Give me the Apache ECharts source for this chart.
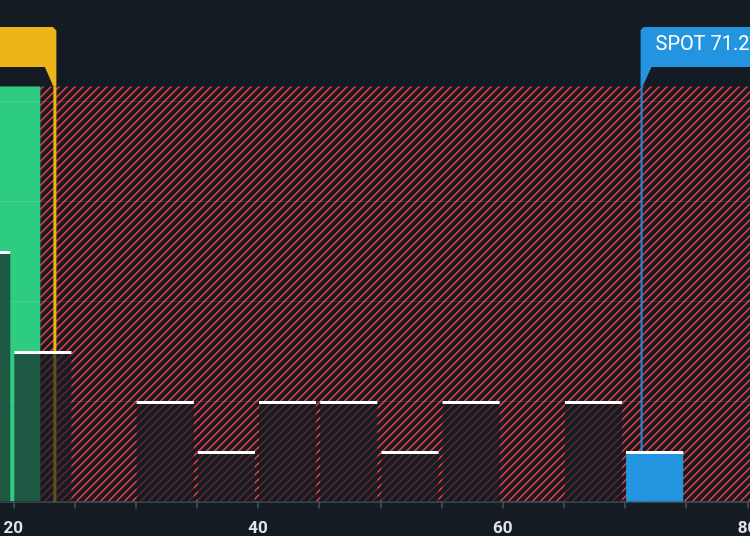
<!DOCTYPE html>
<html>
<head>
<meta charset="utf-8">
<script src="https://cdn.jsdelivr.net/npm/echarts@6/dist/echarts.min.js"></script>
<style>
  html, body { margin: 0; padding: 0; background: #151b23; }
  #chart { width: 750px; height: 536px; }
</style>
</head>
<body>
<div id="chart"></div>
<script>
// ---- data ----
const binStarts = [15, 20, 25, 30, 35, 40, 45, 50, 55, 60, 65, 70, 75];
const binEnds   = [20, 25, 30, 35, 40, 45, 50, 55, 60, 65, 70, 75, 80];
const binCounts = [5, 3, 0, 2, 1, 2, 2, 1, 2, 0, 2, 1, 0];
const fairValue = 23.4;
const spotPrice = 71.35;
const spotLabel = 'SPOT 71.2';
const zoneStarts = [10, fairValue * 0.95];
const zoneEnds   = [fairValue * 0.95, 90];
const xTickLabels = [20, 40, 60, 80];
const yMax = 8.3;

// ---- styles ----
const BG = '#151b23';
const GREEN = '#2ecc80';
const YELLOW = '#eeb518';
const BLUE = '#2394e0';

const P = 8;
const tile = document.createElement('canvas');
tile.width = P; tile.height = P;
(function () {
  const c = tile.getContext('2d');
  c.fillStyle = BG; c.fillRect(0, 0, P, P);
  for (let y = 0; y < P; y++) {
    for (let x = 0; x < P; x++) {
      const m = (x + y) % P;
      if (m === 0 || m === 1) { c.fillStyle = '#d4383e'; c.fillRect(x, y, 1, 1); }
      else if (m === 2) { c.fillStyle = '#6e2830'; c.fillRect(x, y, 1, 1); }
    }
  }
})();
const zoneFills = [GREEN, { image: tile, repeat: 'repeat' }];

const zoneData = zoneStarts.map((s, i) => [s, zoneEnds[i]]);
const barData = binStarts.map((s, i) => [s, binEnds[i], binCounts[i]]);
const markerData = [[fairValue, 0], [spotPrice, 1]];

function renderZone(params, api) {
  const p0 = api.coord([api.value(0), yMax]);
  const p1 = api.coord([api.value(1), 0]);
  return {
    type: 'rect',
    shape: { x: p0[0], y: p0[1], width: p1[0] - p0[0], height: p1[1] - p0[1] },
    style: { fill: zoneFills[params.dataIndex] }
  };
}

function renderBar(params, api) {
  const s = api.value(0), e = api.value(1), c = api.value(2);
  if (!c) return null;
  const top = api.coord([s, c]);
  const bot = api.coord([e, 0]);
  const x0 = top[0] + 1, x1 = bot[0] - 3;
  const isSpot = spotPrice >= s && spotPrice < e;
  return {
    type: 'group',
    children: [
      { type: 'rect', shape: { x: x0, y: top[1], width: x1 - x0, height: bot[1] - top[1] },
        style: { fill: isSpot ? BLUE : 'rgba(21,27,35,0.66)' } },
      { type: 'rect', shape: { x: x0, y: top[1] - 0.5, width: x1 - x0, height: 3 },
        style: { fill: '#ffffff' } }
    ]
  };
}

function renderMarker(params, api) {
  const v = api.value(0);
  const top = api.coord([v, yMax]);
  const bot = api.coord([v, 0]);
  const X = top[0], T = top[1];
  if (params.dataIndex === 0) {
    return {
      type: 'group',
      children: [
        { type: 'rect', shape: { x: X - 1.5, y: T, width: 3, height: bot[1] - T }, style: { fill: YELLOW } },
        { type: 'polygon', shape: { points: [[X - 400, 27], [X - 2, 27], [X + 1.5, 30.5], [X + 1.5, T], [X - 1.5, T], [X - 10, 67], [X - 400, 67]] },
          style: { fill: YELLOW } }
      ]
    };
  }
  return {
    type: 'group',
    children: [
      { type: 'rect', shape: { x: X - 1, y: T, width: 2, height: bot[1] - T }, style: { fill: '#2a8ad4' } },
      { type: 'polygon', shape: { points: [[X - 1, 30], [X + 2, 27], [X + 400, 27], [X + 400, 67], [X + 10, 67], [X + 1, T], [X - 1, T]] },
        style: { fill: BLUE } },
      { type: 'text', style: { text: spotLabel, x: X + 14, y: 45, fill: '#ffffff', font: '20px Roboto', align: 'left', verticalAlign: 'middle' } }
    ]
  };
}

const chart = echarts.init(document.getElementById('chart'));
chart.setOption({
  backgroundColor: BG,
  animation: false,
  grid: { left: -47.9, right: -58.6, top: 86.5, bottom: 34.5, containLabel: false, outerBoundsMode: 'none' },
  xAxis: {
    type: 'value', min: 15, max: 85, interval: 5,
    axisLine: { show: true, lineStyle: { color: '#3d434b', width: 2 } },
    axisTick: { show: true, length: 7, lineStyle: { color: '#4a5058', width: 1.5 } },
    axisLabel: {
      margin: 19, color: '#e2e4e7', fontSize: 17, fontWeight: 'bold', fontFamily: 'Roboto',
      formatter: v => (xTickLabels.indexOf(v) >= 0 ? String(v) : '')
    },
    splitLine: { show: false }
  },
  yAxis: {
    type: 'value', min: 0, max: yMax, interval: 2,
    axisLine: { show: false }, axisTick: { show: false }, axisLabel: { show: false },
    splitLine: { show: true, showMaxLine: false, showMinLine: false, lineStyle: { color: 'rgba(255,255,255,0.1)', width: 1 } }
  },
  series: [
    { type: 'custom', z: -1, renderItem: renderZone, data: zoneData, encode: { x: [0, 1] }, silent: true },
    { type: 'custom', z: 2, renderItem: renderMarker, data: markerData, encode: { x: 0 }, silent: true },
    { type: 'custom', z: 3, renderItem: renderBar, data: barData, encode: { x: [0, 1], y: 2 }, silent: true }
  ]
});
</script>
</body>
</html>
